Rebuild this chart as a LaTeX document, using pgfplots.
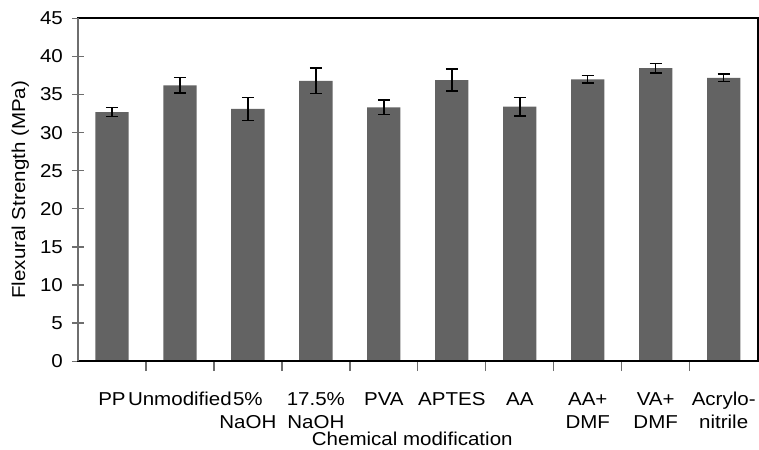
\documentclass[border=0pt]{standalone}
\usepackage{fontspec}
\setmainfont{Liberation Sans}
\usepackage{graphicx}
\usepackage{pgfplots}
\pgfplotsset{compat=1.18}
\definecolor{barfill}{RGB}{99,99,99}
\definecolor{axisgray}{RGB}{110,110,110}
\begin{document}
\begin{tikzpicture}
% page frame: 759 x 449 px at 0.75pt per px, axis box at (78..758, 18..361) px
\path (-58.5pt,-66pt) rectangle (511pt,271pt);
\begin{axis}[
    at={(0,0)}, anchor=south west,
    scale only axis, clip=false,
    width=510pt, height=257.25pt,
    xmin=-0.5, xmax=9.5,
    ymin=0, ymax=45,
    ytick={0,5,...,45},
    xtick={0,...,9},
    xticklabels={PP, Unmodified, 5\%\\NaOH, 17.5\%\\NaOH, PVA, APTES, AA, AA+\\DMF, VA+\\DMF, Acrylo-\\nitrile},
    minor xtick={0.5,1.5,...,8.5},
    major x tick style={draw=none},
    xtick pos=bottom, ytick pos=left,
    tick align=center,
    major tick length=9pt,
    minor tick length=7.5pt,
    tick style={axisgray, line width=1pt},
    axis line style={black, line width=1.5pt},
    ticklabel style={font=\fontsize{14}{17.25}\selectfont, xscale=1.1, inner sep=0pt},
    xticklabel style={align=center, anchor=north, yshift=-14.25pt},
    yticklabel style={anchor=east, xshift=-6pt},
    /pgf/number format/assume math mode=true,
    xlabel={Chemical modification},
    ylabel={\scalebox{1.1}[1]{Flexural Strength (MPa)}},
    label style={font=\fontsize{14}{17}\selectfont, inner sep=0pt},
    xlabel style={at={(axis description cs:0.4918,-0.2449)}, anchor=base, xscale=1.1},
    ylabel style={at={(axis description cs:-0.0779,0.5)}, anchor=base},
    ybar, bar width=0.49,
]
\addplot[fill=barfill, draw=none,
    error bars/.cd, y dir=both, y explicit,
    error bar style={black, line width=1.1pt},
    error mark options={black, rotate=90, mark size=4.5pt, line width=1.1pt}]
coordinates {
    (0, 32.7) +- (0, 0.6)
    (1, 36.2) +- (0, 1.0)
    (2, 33.1) +- (0, 1.5)
    (3, 36.8) +- (0, 1.65)
    (4, 33.3) +- (0, 0.95)
    (5, 36.9) +- (0, 1.45)
    (6, 33.4) +- (0, 1.2)
    (7, 37.0) +- (0, 0.5)
    (8, 38.45) +- (0, 0.6)
    (9, 37.2) +- (0, 0.5)
};
% frame: top and right in black, left in gray
\draw[black, line width=1.5pt] (rel axis cs:0,0) rectangle (rel axis cs:1,1);
\draw[axisgray, line width=1.5pt] (rel axis cs:0,0) -- (rel axis cs:0,1);
\end{axis}
\end{tikzpicture}
\end{document}
